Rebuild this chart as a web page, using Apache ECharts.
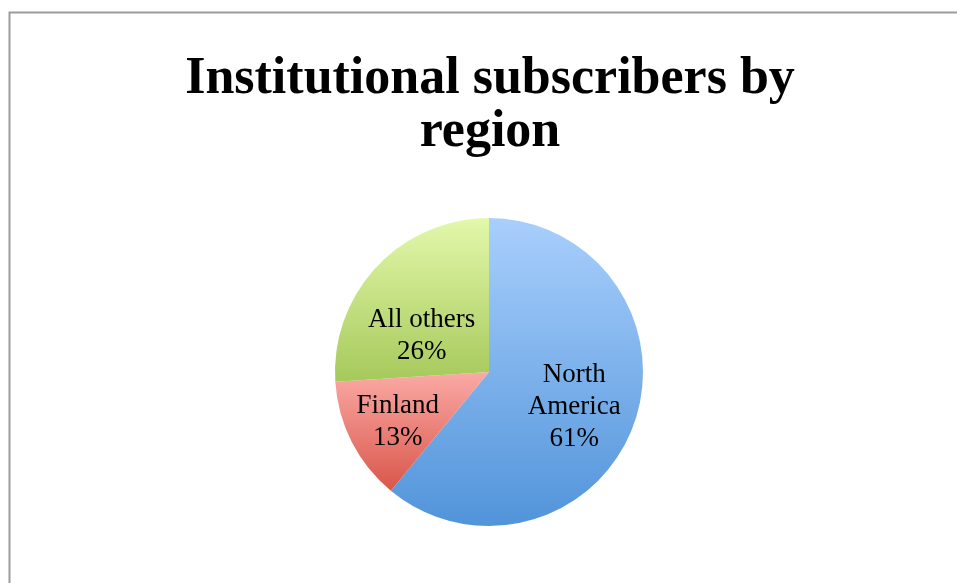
<!DOCTYPE html>
<html>
<head>
<meta charset="utf-8">
<script src="https://cdn.jsdelivr.net/npm/echarts@6/dist/echarts.min.js"></script>
<style>
  html, body { margin: 0; padding: 0; background: #fff; }
  #main { width: 957px; height: 583px; }
</style>
</head>
<body>
<div id="main"></div>
<script>
var regions = ['North\nAmerica', 'Finland', 'All others'];
var shares = [61, 13, 26];
// gradient top/bottom per slice
var topColors = ['#a9cffc', '#faaaa5', '#e3f8ab'];
var bottomColors = ['#5194da', '#d9564a', '#a6c95b'];
// small nudges so the labels sit where Excel put them
var labelNudge = [[10, 8], [-20, 14], [-9, 19]];

var myChart = echarts.init(document.getElementById('main'));

var pieData = [];
for (var i = 0; i < regions.length; i++) {
    pieData.push({
        name: regions[i],
        value: shares[i],
        itemStyle: {
            color: new echarts.graphic.LinearGradient(0, 0, 0, 1, [
                { offset: 0, color: topColors[i] },
                { offset: 1, color: bottomColors[i] }
            ])
        }
    });
}

var option = {
    backgroundColor: '#fff',
    animation: false,
    title: {
        text: 'Institutional subscribers by\nregion',
        left: 485,
        textAlign: 'center',
        top: 48,
        textStyle: {
            fontFamily: 'Liberation Serif',
            fontWeight: 'bold',
            fontSize: 52,
            lineHeight: 53,
            color: '#000'
        }
    },
    graphic: [{
        type: 'rect',
        shape: { x: 9.5, y: 12.5, width: 1200, height: 800 },
        style: { fill: 'none', stroke: '#9c9c9c', lineWidth: 2 },
        silent: true
    }],
    series: [{
        type: 'pie',
        center: [489, 372],
        radius: 154,
        startAngle: 90,
        clockwise: true,
        itemStyle: { borderWidth: 0 },
        label: {
            show: true,
            position: 'inside',
            formatter: function (p) { return p.name + '\n' + p.value + '%'; },
            fontFamily: 'Liberation Serif',
            fontSize: 27,
            lineHeight: 32,
            color: '#000',
            align: 'center'
        },
        labelLine: { show: false },
        labelLayout: function (params) {
            var n = labelNudge[params.dataIndex];
            return { dx: n[0], dy: n[1] };
        },
        emphasis: { disabled: true },
        data: pieData
    }]
};

myChart.setOption(option);
</script>
</body>
</html>
